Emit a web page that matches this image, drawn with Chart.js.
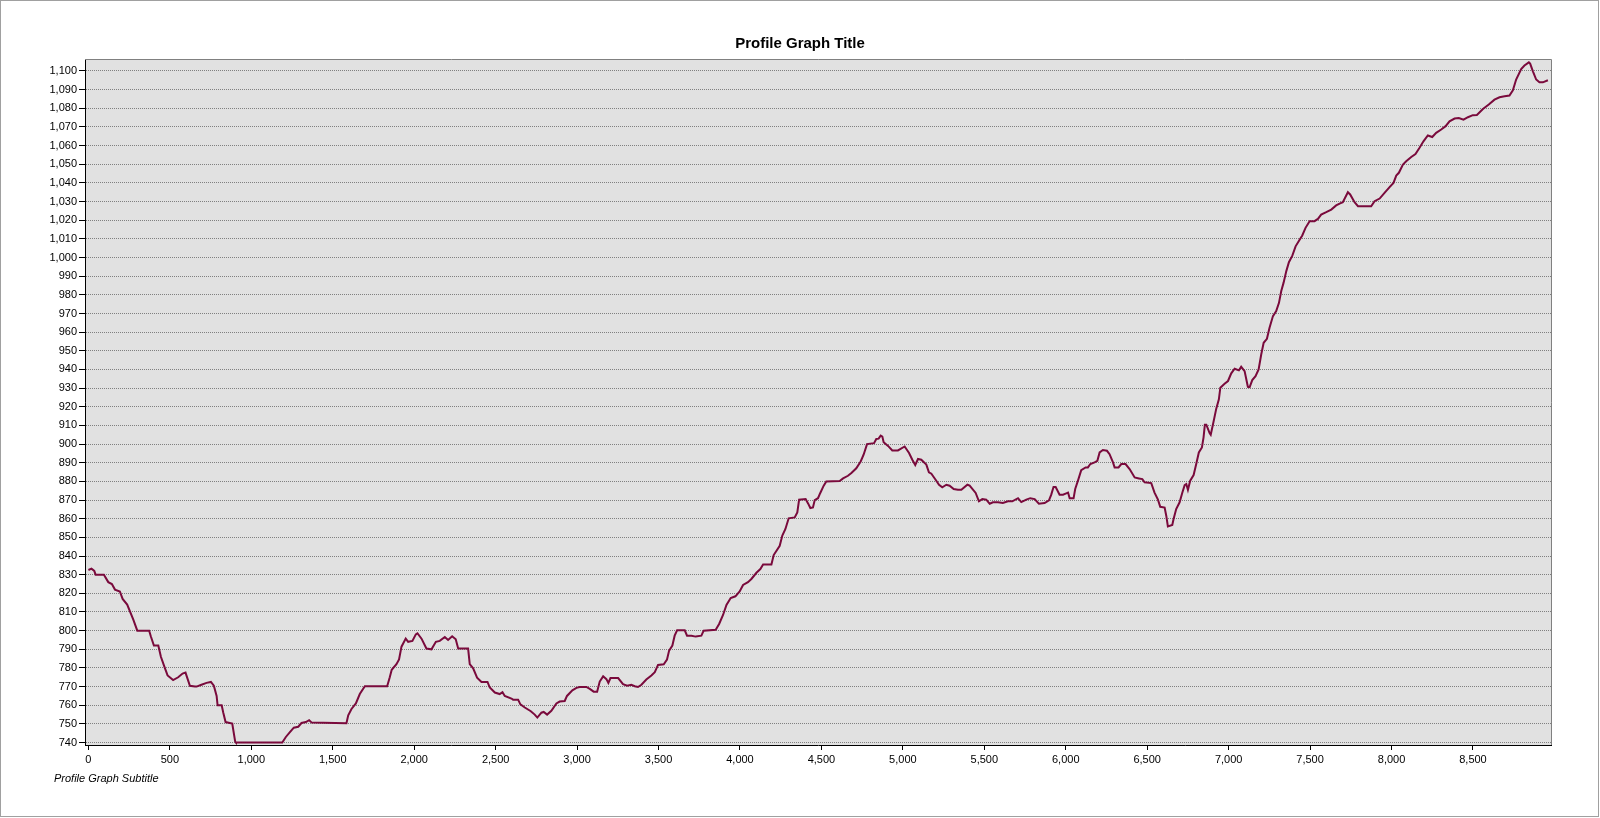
<!DOCTYPE html>
<html>
<head>
<meta charset="utf-8">
<script src="https://cdn.jsdelivr.net/npm/chart.js@4.4.1/dist/chart.umd.min.js"></script>
<style>
  html, body { margin: 0; padding: 0; background: #ffffff; }
  #wrap { width: 1600px; height: 818px; position: relative; }
  canvas { display: block; }
</style>
</head>
<body>
<div id="wrap"><canvas id="c" width="1600" height="818"></canvas></div>
<script>
const chartTitle = 'Profile Graph Title';
const chartSubtitle = 'Profile Graph Subtitle';

const distance = [
  0, 19, 36, 44, 95, 122, 144, 163, 193, 210, 238, 275, 300, 373, 383, 402, 429, 445, 469, 486,
  520, 551, 578, 596, 623, 654, 664, 694, 725, 752, 770, 787, 793, 818, 828, 842, 883, 901, 906, 1190,
  1212, 1241, 1261, 1288, 1308, 1335, 1355, 1371, 1584, 1595, 1615, 1642, 1666, 1697, 1834, 1850, 1862, 1891, 1907, 1922,
  1948, 1963, 1989, 2010, 2020, 2045, 2075, 2106, 2133, 2157, 2188, 2208, 2233, 2255, 2270, 2331, 2341, 2362, 2386, 2413,
  2450, 2464, 2495, 2525, 2542, 2556, 2597, 2607, 2638, 2652, 2679, 2716, 2740, 2756, 2781, 2795, 2816, 2842, 2873, 2893,
  2924, 2938, 2971, 2996, 3016, 3057, 3078, 3102, 3123, 3139, 3160, 3180, 3192, 3205, 3252, 3282, 3307, 3333, 3354, 3374,
  3395, 3425, 3456, 3477, 3497, 3532, 3552, 3565, 3585, 3599, 3614, 3661, 3675, 3702, 3728, 3763, 3777, 3851, 3872, 3896,
  3917, 3943, 3972, 3998, 4019, 4049, 4070, 4101, 4125, 4142, 4193, 4207, 4244, 4260, 4279, 4299, 4336, 4352, 4363, 4403,
  4418, 4432, 4448, 4459, 4479, 4493, 4514, 4530, 4612, 4633, 4663, 4684, 4714, 4741, 4759, 4780, 4823, 4837, 4851, 4864,
  4874, 4882, 4909, 4935, 4970, 5011, 5038, 5058, 5076, 5093, 5113, 5144, 5160, 5175, 5201, 5222, 5242, 5267, 5287, 5312,
  5338, 5359, 5396, 5410, 5447, 5467, 5488, 5512, 5533, 5553, 5584, 5614, 5645, 5672, 5707, 5727, 5758, 5782, 5809, 5835,
  5870, 5897, 5911, 5925, 5938, 5962, 5983, 6003, 6014, 6024, 6048, 6058, 6075, 6095, 6122, 6136, 6151, 6177, 6194, 6208,
  6228, 6253, 6269, 6290, 6300, 6324, 6341, 6367, 6392, 6423, 6449, 6470, 6484, 6525, 6545, 6566, 6580, 6607, 6617, 6627,
  6654, 6662, 6678, 6699, 6715, 6730, 6740, 6750, 6764, 6785, 6801, 6817, 6836, 6846, 6854, 6863, 6883, 6890, 6905, 6924,
  6940, 6949, 6975, 6996, 7016, 7037, 7063, 7077, 7098, 7118, 7129, 7145, 7165, 7184, 7200, 7215, 7235, 7251, 7272, 7292,
  7309, 7323, 7337, 7354, 7370, 7391, 7411, 7431, 7452, 7472, 7497, 7527, 7548, 7568, 7599, 7630, 7660, 7681, 7701, 7732,
  7746, 7773, 7794, 7875, 7896, 7927, 7957, 7988, 8012, 8029, 8045, 8070, 8090, 8121, 8147, 8172, 8196, 8223, 8250, 8274,
  8305, 8332, 8356, 8387, 8413, 8442, 8469, 8499, 8524, 8561, 8597, 8632, 8663, 8694, 8724, 8745, 8765, 8796, 8816, 8843,
  8851, 8868, 8888, 8908, 8929, 8960
];

const elevation = [
  832.5, 833.2, 832, 830, 830, 826, 825, 822, 821, 817, 814, 806, 800, 800, 797, 792, 792, 786, 780, 776,
  773.5, 775, 777, 777.5, 770.4, 770, 770, 771, 772, 772.5, 770.5, 765, 760, 760, 756, 751, 750.2, 740.5, 740, 740,
  743, 746, 748, 748.5, 750.5, 751, 752, 750.7, 750.4, 754.6, 758, 761, 766, 770.2, 770.2, 775, 779, 782, 784.6, 791.4,
  795.7, 794, 794.5, 798, 798.6, 795.7, 790.4, 790, 794, 794.5, 796.6, 795, 797, 795.4, 790.4, 790.4, 782, 779.8, 774.8, 772.5,
  772.5, 769.5, 766.8, 766, 767, 765, 763.6, 763, 763, 760.5, 758.8, 756.8, 755, 753.4, 756, 756.4, 755, 757, 761, 762,
  762.3, 765, 768, 769.3, 769.8, 769.8, 768.8, 767.3, 767.3, 772.7, 775.5, 774, 772, 774.6, 774.6, 771.3, 770.5, 771, 770.2, 769.8,
  771, 773.8, 776, 777.7, 781.6, 782, 784.5, 789.3, 792, 797.3, 800.2, 800.2, 797.3, 797.3, 796.8, 797.3, 800, 800.5, 803.6, 808.4,
  813.8, 817.5, 818.4, 821, 824.5, 826, 827.7, 831, 833, 835.4, 835.4, 840.5, 845.5, 851, 854.5, 860.2, 860.7, 863.4, 870.2, 870.5,
  868.2, 865.7, 866, 870, 871, 873.8, 877.7, 880, 880.2, 881.6, 883, 884.5, 887, 890.7, 894.3, 900, 900.5, 902.7, 902.9, 904.5,
  904, 901, 899, 896.6, 896.6, 898.7, 895.2, 891.6, 888.8, 892, 891.6, 889, 884.8, 884.1, 880.9, 878.2, 876.8, 878.2, 877.7, 875.9,
  875.5, 875.5, 878.2, 877.7, 873.8, 869.3, 870.5, 870.2, 868, 868.8, 868.8, 868.4, 869.3, 869.3, 871, 868.9, 870.2, 871, 870.5, 868,
  868.4, 869.8, 872.9, 877, 877, 872.9, 872.9, 873.6, 874, 870.9, 870.9, 875.9, 880.4, 886, 887.5, 887.5, 889.3, 890.2, 891, 895.5,
  896.8, 896.4, 894.6, 890.2, 887.5, 887.5, 889.3, 889.3, 886.6, 882.1, 881.6, 881.2, 879.5, 879.1, 874, 870.2, 866.4, 866, 861.6, 855.9,
  856.6, 859.8, 865.2, 868.8, 873.8, 878, 878.6, 875.5, 880.4, 883.4, 889.3, 895.5, 898.2, 903.6, 910.4, 910.4, 905.9, 905, 911, 919,
  924, 930.2, 932.3, 933.8, 937.9, 940.4, 939.5, 941.4, 939.1, 930.7, 930.5, 934.3, 936.4, 940, 948, 954.3, 956.4, 962.3, 968.6, 971.3,
  975.7, 982, 986.4, 992.7, 997.5, 1001, 1006, 1008.8, 1011.8, 1015.9, 1019.5, 1019.5, 1020.7, 1023, 1024.3, 1025.7, 1027.9, 1028.9, 1029.6, 1035,
  1033.8, 1029.6, 1027.5, 1027.5, 1030.2, 1031.6, 1034.6, 1037.7, 1040, 1043.9, 1045.4, 1049.8, 1051.6, 1053.9, 1055.5, 1058.8, 1062.3, 1065.4, 1064.6, 1066.8,
  1068.6, 1070.4, 1073, 1074.5, 1074.8, 1073.9, 1075.2, 1076.3, 1076.4, 1079.6, 1082, 1084.6, 1085.9, 1086.4, 1086.8, 1089.6, 1095.4, 1101, 1102.9, 1104.6,
  1103.9, 1099.8, 1095.4, 1093.9, 1093.9, 1095
];

const xTicks = [0, 500, 1000, 1500, 2000, 2500, 3000, 3500, 4000, 4500, 5000, 5500, 6000, 6500, 7000, 7500, 8000, 8500];
const yTicks = [740, 750, 760, 770, 780, 790, 800, 810, 820, 830, 840, 850, 860, 870, 880, 890, 900, 910, 920, 930,
  940, 950, 960, 970, 980, 990, 1000, 1010, 1020, 1030, 1040, 1050, 1060, 1070, 1080, 1090, 1100];

function fmt(v) {
  return String(Math.round(v)).replace(/\B(?=(\d{3})+(?!\d))/g, ',');
}

const FONT = '"Liberation Sans", Arial, sans-serif';

const framePlugin = {
  id: 'frame',
  beforeDraw(chart) {
    const { ctx, chartArea: a } = chart;
    ctx.save();
    ctx.fillStyle = '#ffffff';
    ctx.fillRect(0, 0, chart.width, chart.height);
    ctx.fillStyle = '#e1e1e1';
    ctx.fillRect(a.left, a.top, a.right - a.left, a.bottom - a.top);
    ctx.restore();
  },
  afterDraw(chart) {
    const { ctx, chartArea: a } = chart;
    ctx.save();
    // plot top and right border
    ctx.strokeStyle = '#808080';
    ctx.lineWidth = 1;
    ctx.beginPath();
    ctx.moveTo(a.left, Math.round(a.top) + 0.5);
    ctx.lineTo(Math.round(a.right) + 0.5, Math.round(a.top) + 0.5);
    ctx.lineTo(Math.round(a.right) + 0.5, a.bottom);
    ctx.stroke();
    // outer frame
    ctx.strokeStyle = '#a0a0a0';
    ctx.strokeRect(0.5, 0.5, 1598, 816);
    // title
    ctx.fillStyle = '#000000';
    ctx.textAlign = 'center';
    ctx.textBaseline = 'alphabetic';
    ctx.font = 'bold 15px ' + FONT;
    ctx.fillText(chartTitle, 800, 47.5);
    // subtitle
    ctx.textAlign = 'left';
    ctx.font = 'italic 11px ' + FONT;
    ctx.fillText(chartSubtitle, 54, 782);
    ctx.restore();
  }
};

new Chart(document.getElementById('c'), {
  type: 'line',
  data: {
    datasets: [{
      data: distance.map((d, i) => ({ x: d, y: elevation[i] })),
      borderColor: '#7a0a3c',
      borderWidth: 2,
      pointRadius: 0,
      tension: 0,
      fill: false
    }]
  },
  options: {
    responsive: false,
    animation: false,
    devicePixelRatio: 1,
    layout: { padding: { top: 59, right: 49, left: 0, bottom: 0 } },
    plugins: {
      legend: { display: false },
      tooltip: { enabled: false },
      title: { display: false }
    },
    scales: {
      x: {
        type: 'linear',
        min: -21,
        max: 8979,
        afterFit(scale) { scale.height = 73; },
        afterBuildTicks(scale) { scale.ticks = xTicks.map(v => ({ value: v })); },
        grid: {
          drawOnChartArea: false,
          drawTicks: true,
          tickLength: 5,
          tickColor: '#000000',
          color: '#000000'
        },
        border: { display: true, color: '#000000', width: 1 },
        ticks: {
          autoSkip: false,
          maxRotation: 0,
          padding: 3,
          color: '#000000',
          font: { family: FONT, size: 11 },
          callback: (v) => fmt(v)
        }
      },
      y: {
        type: 'linear',
        min: 738.7,
        max: 1106.4,
        afterFit(scale) { scale.width = 85; },
        afterBuildTicks(scale) { scale.ticks = yTicks.map(v => ({ value: v })); },
        grid: {
          drawOnChartArea: true,
          drawTicks: true,
          tickLength: 6,
          tickColor: '#000000',
          tickBorderDash: [],
          color: '#808080',
          lineWidth: 1
        },
        border: { display: true, color: '#000000', width: 1, dash: [1, 1] },
        ticks: {
          autoSkip: false,
          padding: 2,
          color: '#000000',
          font: { family: FONT, size: 11 },
          callback: (v) => fmt(v)
        }
      }
    }
  },
  plugins: [framePlugin]
});
</script>
</body>
</html>
